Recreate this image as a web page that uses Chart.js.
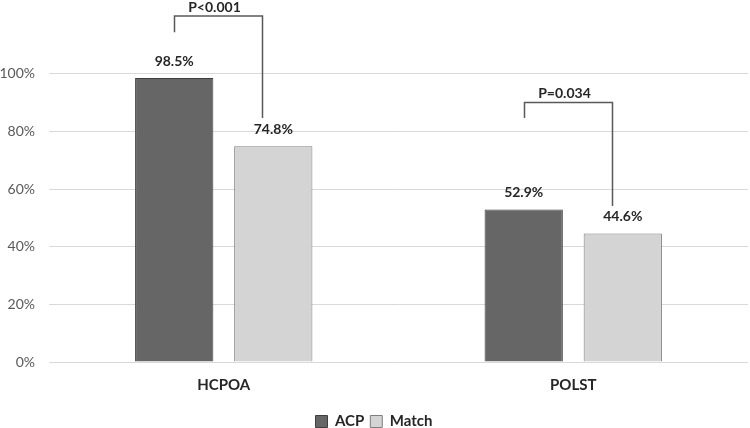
<!DOCTYPE html>
<html>
<head>
<meta charset="utf-8">
<script src="https://cdn.jsdelivr.net/npm/chart.js@4/dist/chart.umd.min.js"></script>
<style>
    html, body { margin: 0; padding: 0; background: #fff; }
    #wrap { width: 750px; height: 428px; }
</style>
</head>
<body>
<div id="wrap"><canvas id="chart"></canvas></div>
<script>
// ---- data ----
const categories = ['HCPOA', 'POLST'];
const seriesNames = ['ACP', 'Match'];
const acpValues = [98.5, 52.9];
const matchValues = [74.8, 44.6];
const yTickValues = [0, 20, 40, 60, 80, 100];

// significance brackets, in % units
const pLabels = ['P<0.001', 'P=0.034'];
const bracketTops = [120, 90];
const bracketLeftEnds = [114.4, 84.6];
const bracketRightEnds = [84.6, 54.1];

const FONT = 'Lato, "Open Sans", sans-serif';

// value labels above bars
const valueLabels = {
    id: 'valueLabels',
    afterDatasetsDraw(chart) {
        const ctx = chart.ctx;
        ctx.save();
        ctx.font = 'bold 14px ' + FONT;
        ctx.fillStyle = '#262626';
        ctx.textAlign = 'center';
        ctx.textBaseline = 'middle';
        chart.data.datasets.forEach((ds, i) => {
            chart.getDatasetMeta(i).data.forEach((bar, j) => {
                ctx.fillText(ds.data[j].toFixed(1) + '%', bar.x, bar.y - 17);
            });
        });
        ctx.restore();
    }
};

// p-value brackets
const brackets = {
    id: 'brackets',
    afterDatasetsDraw(chart) {
        const ctx = chart.ctx;
        const y = chart.scales.y;
        const acpBars = chart.getDatasetMeta(0).data;
        const matchBars = chart.getDatasetMeta(1).data;
        ctx.save();
        ctx.strokeStyle = '#595959';
        ctx.lineWidth = 1.5;
        categories.forEach((c, i) => {
            const x1 = Math.round(acpBars[i].x) + 0.5;
            const x2 = Math.round(matchBars[i].x - 11) + 0.5;
            const yt = y.getPixelForValue(bracketTops[i]);
            ctx.beginPath();
            ctx.moveTo(x1, y.getPixelForValue(bracketLeftEnds[i]));
            ctx.lineTo(x1, yt);
            ctx.lineTo(x2, yt);
            ctx.lineTo(x2, y.getPixelForValue(bracketRightEnds[i]));
            ctx.stroke();

            ctx.font = 'bold 14px ' + FONT;
            ctx.fillStyle = '#262626';
            ctx.textAlign = 'center';
            ctx.textBaseline = 'middle';
            ctx.fillText(pLabels[i], (x1 + x2) / 2 - 4, yt - 9);
        });
        ctx.restore();
    }
};

new Chart(document.getElementById('chart'), {
    type: 'bar',
    data: {
        labels: categories,
        datasets: [
            {
                label: seriesNames[0],
                data: acpValues,
                backgroundColor: '#666666',
                borderColor: '#3f3f3f',
                borderWidth: 1
            },
            {
                label: seriesNames[1],
                data: matchValues,
                backgroundColor: '#d4d4d4',
                borderColor: '#7f7f7f',
                borderWidth: 1
            }
        ]
    },
    options: {
        responsive: true,
        maintainAspectRatio: false,
        animation: false,
        layout: { padding: { top: 16, right: 2, left: 0, bottom: -11 } },
        datasets: {
            bar: { categoryPercentage: 0.567, barPercentage: 0.79 }
        },
        plugins: {
            legend: {
                position: 'bottom',
                labels: {
                    boxWidth: 12,
                    boxHeight: 12,
                    padding: 6,
                    color: '#262626',
                    font: { family: FONT, size: 15, weight: 'bold' }
                }
            },
            tooltip: { enabled: false }
        },
        scales: {
            x: {
                grid: { display: false, drawTicks: false },
                border: { display: false },
                ticks: {
                    color: '#262626',
                    padding: 14,
                    font: { family: FONT, size: 15, weight: 'bold' }
                }
            },
            y: {
                min: 0,
                max: 120,
                afterFit(scale) {
                    scale.width = 49;
                    scale.paddingTop = 0;
                    scale.paddingBottom = 0;
                },
                afterBuildTicks(scale) {
                    scale.ticks = yTickValues.concat([120]).map(v => ({ value: v }));
                },
                border: { display: false },
                grid: {
                    color: c => (c.tick && c.tick.value > 100) ? 'rgba(0,0,0,0)' : '#d9d9d9',
                    drawTicks: false
                },
                ticks: {
                    color: '#595959',
                    padding: 14,
                    font: { family: FONT, size: 14 },
                    callback: v => (yTickValues.includes(v) ? v + '%' : '')
                }
            }
        }
    },
    plugins: [valueLabels, brackets]
});
</script>
</body>
</html>
